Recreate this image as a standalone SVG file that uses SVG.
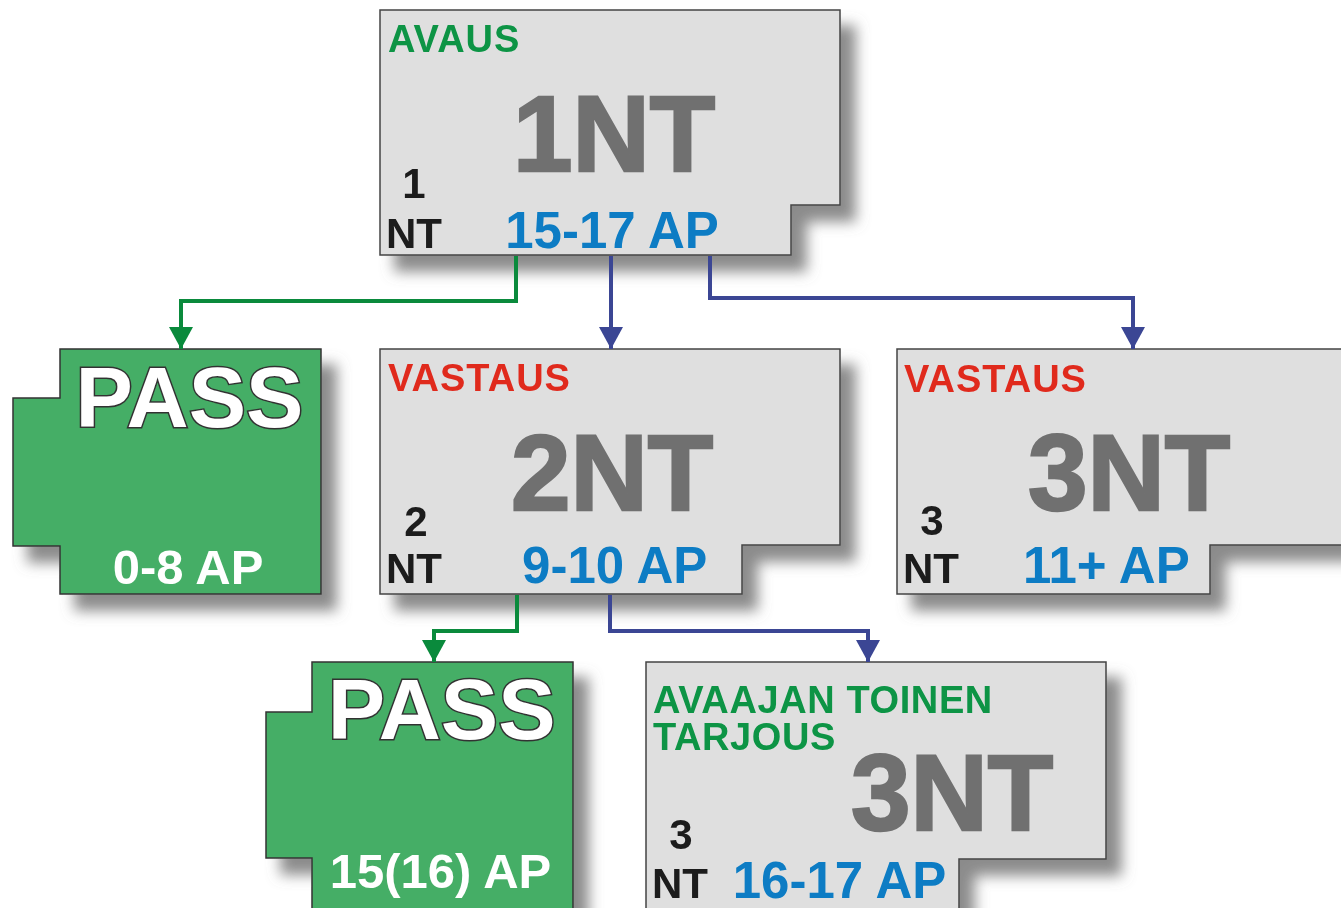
<svg xmlns="http://www.w3.org/2000/svg" width="1341" height="908" viewBox="0 0 1341 908">
<defs>
<filter id="sh" x="-10%" y="-10%" width="130%" height="140%">
<feGaussianBlur in="SourceAlpha" stdDeviation="7"/>
<feOffset dx="15" dy="16" result="b"/>
<feFlood flood-color="#777" flood-opacity="0.85"/>
<feComposite in2="b" operator="in" result="s"/>
<feMerge><feMergeNode in="s"/><feMergeNode in="SourceGraphic"/></feMerge>
</filter>
<marker id="ag" viewBox="0 0 22 24" refX="22" refY="12" markerWidth="22" markerHeight="24" markerUnits="userSpaceOnUse" orient="auto">
<path d="M0,0 L22,12 L0,24 Z" fill="#0a8a3c"/>
</marker>
<marker id="ab" viewBox="0 0 22 24" refX="22" refY="12" markerWidth="22" markerHeight="24" markerUnits="userSpaceOnUse" orient="auto">
<path d="M0,0 L22,12 L0,24 Z" fill="#3b4694"/>
</marker>
<style>
text{font-family:"Liberation Sans",Arial,sans-serif;font-weight:bold}
.box{fill:#dfdfdf;stroke:#444;stroke-width:1.5}
.gbox{fill:#45ae66;stroke:#333;stroke-width:1.5}
.big{fill:#707070;stroke:#707070;stroke-width:2.5;font-size:107px;text-anchor:middle;letter-spacing:0px}
.ap{fill:#0a7cc4;font-size:51px;text-anchor:middle}
.nt{fill:#1a1a1a;font-size:42px}
.dg{fill:#1a1a1a;font-size:42px;text-anchor:middle}
.red{fill:#e0291f;font-size:38px;letter-spacing:1px}
.grn{fill:#0a9444;font-size:38px;letter-spacing:0.6px}
.pass{fill:#fff;stroke:#333;stroke-width:3;paint-order:stroke;font-size:86px;text-anchor:middle}
.wap{fill:#fff;font-size:49px;text-anchor:middle}
.cg{fill:none;stroke:#0a8a3c;stroke-width:4}
.cb{fill:none;stroke:#3b4694;stroke-width:4}
</style>
</defs>

<g id="n1nt" filter="url(#sh)">
<path class="box" d="M380,10 H840 V205 H791 V255 H380 Z"/>
<text class="grn" x="388" y="52" style="letter-spacing:1px">AVAUS</text>
<text class="big" x="614" y="171">1NT</text>
<text class="dg" x="414" y="198">1</text>
<text class="nt" x="386" y="248">NT</text>
<text class="ap" x="612" y="248">15-17 AP</text>
</g>

<g id="pass1" filter="url(#sh)">
<path class="gbox" d="M60,349 H321 V594 H60 V546 H13 V398 H60 Z"/>
<text class="pass" x="189.5" y="427">PASS</text>
<text class="wap" x="188" y="584">0-8 AP</text>
</g>

<g id="n2nt" filter="url(#sh)">
<path class="box" d="M380,349 H840 V545 H742 V594 H380 Z"/>
<text class="red" x="388" y="391">VASTAUS</text>
<text class="big" x="612" y="510">2NT</text>
<text class="dg" x="416" y="536">2</text>
<text class="nt" x="386" y="583">NT</text>
<text class="ap" x="614.7" y="582.5">9-10 AP</text>
</g>

<g id="n3nt" filter="url(#sh)">
<path class="box" d="M897,349 H1350 V545 H1210 V594 H897 Z"/>
<text class="red" x="904" y="391.5">VASTAUS</text>
<text class="big" x="1129" y="510">3NT</text>
<text class="dg" x="932" y="535">3</text>
<text class="nt" x="903" y="583">NT</text>
<text class="ap" x="1106.3" y="583">11+ AP</text>
</g>

<g id="pass2" filter="url(#sh)">
<path class="gbox" d="M312,662 H573 V912 H312 V858 H266 V712 H312 Z"/>
<text class="pass" x="441.7" y="739">PASS</text>
<text class="wap" x="440.5" y="888">15(16) AP</text>
</g>

<g id="n3nt2" filter="url(#sh)">
<path class="box" d="M646,662 H1106 V859 H959 V915 H646 Z"/>
<text class="grn" x="653" y="713">AVAAJAN TOINEN</text>
<text class="grn" x="653" y="750">TARJOUS</text>
<text class="big" x="952" y="830">3NT</text>
<text class="dg" x="681" y="849">3</text>
<text class="nt" x="652" y="898">NT</text>
<text class="ap" x="839.5" y="898">16-17 AP</text>
</g>

<g id="connectors">
<path class="cg" d="M516,256 V301 H181 V349" marker-end="url(#ag)"/>
<path class="cb" d="M611,256 V349" marker-end="url(#ab)"/>
<path class="cb" d="M710,256 V298 H1133 V349" marker-end="url(#ab)"/>
<path class="cg" d="M517,595 V631 H434 V662" marker-end="url(#ag)"/>
<path class="cb" d="M610,595 V631 H868 V662" marker-end="url(#ab)"/>
</g>
</svg>
